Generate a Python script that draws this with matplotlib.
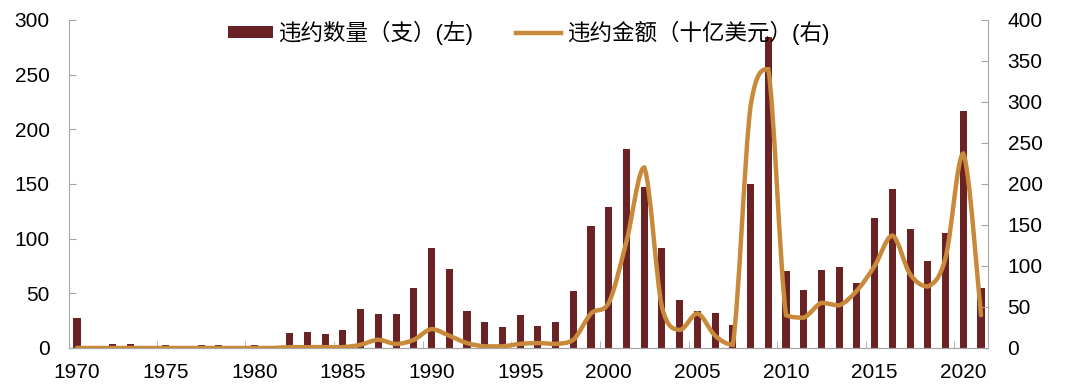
import matplotlib
matplotlib.use("Agg")
import matplotlib.pyplot as plt
import numpy as np
from matplotlib.path import Path
from matplotlib.patches import PathPatch
from matplotlib.lines import Line2D
from matplotlib.patches import Patch

plt.rcParams["font.family"] = ["Liberation Sans", "Noto Sans CJK SC", "DejaVu Sans"]

years = list(range(1970, 2022))

# 违约数量（支）
default_count = [27, 2, 4, 4, 2, 3, 0, 3, 3, 0,
                 3, 1, 14, 15, 13, 16, 36, 31, 31, 55,
                 91, 72, 34, 24, 19, 30, 20, 24, 52, 112,
                 129, 182, 147, 91, 44, 34, 32, 21, 150, 284,
                 70, 53, 71, 74, 59, 119, 145, 109, 80, 105,
                 217, 55]

# 违约金额（十亿美元）
default_amount = [0, 0, 0, 0, 0, 0, 0, 0, 0, 0,
                  0, 0, 1, 1, 1, 1, 4, 10, 5, 10,
                  23, 15, 6, 2, 2, 5, 6, 5, 10, 42,
                  55, 130, 220, 50, 22, 42, 15, 4, 295, 340,
                  40, 37, 55, 52, 70, 100, 137, 90, 75, 110,
                  237, 40]

bar_color = "#6B2224"
line_color = "#C88A3A"
spine_color = "#A6A6A6"


def smooth_path(xs, ys, t=1 / 6):
    # smoothed line as cubic Bezier segments, control points kept inside each segment's range
    xs = np.asarray(xs, float)
    ys = np.asarray(ys, float)
    n = len(xs)
    verts = [(xs[0], ys[0])]
    codes = [Path.MOVETO]
    for i in range(n - 1):
        p0 = (xs[max(i - 1, 0)], ys[max(i - 1, 0)])
        p1 = (xs[i], ys[i])
        p2 = (xs[i + 1], ys[i + 1])
        p3 = (xs[min(i + 2, n - 1)], ys[min(i + 2, n - 1)])
        lo, hi = min(p1[1], p2[1]), max(p1[1], p2[1])
        c1y = np.clip(p1[1] + (p2[1] - p0[1]) * t, lo, hi)
        c2y = np.clip(p2[1] - (p3[1] - p1[1]) * t, lo, hi)
        c1 = (p1[0] + (p2[0] - p0[0]) * t, c1y)
        c2 = (p2[0] - (p3[0] - p1[0]) * t, c2y)
        verts += [c1, c2, p2]
        codes += [Path.CURVE4] * 3
    return Path(verts, codes)


fig = plt.figure(figsize=(10.8, 3.91), dpi=100)
ax = fig.add_axes([0.0639, 0.11, 0.851, 0.839])
ax2 = ax.twinx()

ax.bar(years, default_count, width=0.4, color=bar_color, zorder=2)
ax2.add_patch(PathPatch(smooth_path(years, default_amount), facecolor="none",
                        edgecolor=line_color, lw=3.2, capstyle="round", zorder=3))

ax.set_xlim(1969.55, 2021.4)
ax.set_ylim(0, 300)
ax2.set_ylim(0, 400)
ax.set_yticks(range(0, 301, 50))
ax2.set_yticks(range(0, 401, 50))

label_years = list(range(1970, 2021, 5))
ax.set_xticks(label_years)
ax.set_xticklabels([str(y) for y in label_years])
ax.set_xticks([y - 0.5 for y in range(1975, 2021, 5)], minor=True)
ax.tick_params(axis="x", which="major", length=0, labelsize=15, pad=11)
ax.tick_params(axis="x", which="minor", direction="in", length=5, color=spine_color)
ax.tick_params(axis="y", direction="in", length=5, color=spine_color, labelsize=15, pad=14)
ax2.tick_params(axis="y", direction="in", length=5, color=spine_color, labelsize=15, pad=14)

for a in (ax, ax2):
    a.spines["top"].set_visible(False)
    for s in ("left", "right", "bottom"):
        a.spines[s].set_color(spine_color)
ax.spines["right"].set_visible(False)
ax2.spines["left"].set_visible(False)

handles = [Patch(facecolor=bar_color), Line2D([0], [0], color=line_color, lw=3.2)]
labels = ["违约数量（支）(左)", "违约金额（十亿美元）(右)"]
ax2.legend(handles, labels, loc="upper center", bbox_to_anchor=(0.5, 1.06), ncol=2,
           frameon=False, fontsize=16.2, handlelength=2.0, handleheight=0.45,
           columnspacing=1.9, handletextpad=0.25)

fig.savefig("out.png", dpi=100)
